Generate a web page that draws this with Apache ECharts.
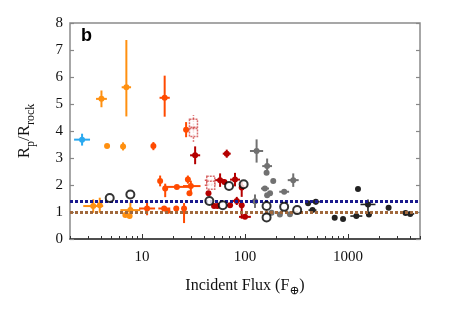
<!DOCTYPE html>
<html><head><meta charset="utf-8">
<script src="https://cdn.jsdelivr.net/npm/echarts@6/dist/echarts.min.js"></script>
<style>html,body{margin:0;padding:0;background:#fff}#c{width:455px;height:319px}</style>
</head><body><div id="c"></div>
<script>
// rows: [flux, radius, xLo, xHi, yLo, yHi] (null = no error bar)
const lightBlue = [[2.62, 3.68, 2.19, 3.13, 3.46, 3.90]];
const orange = [
  [4.04, 5.19, 3.58, 4.56, 4.88, 5.50],
  [7.05, 5.62, 6.35, 7.83, 4.54, 7.37],
  [4.58, 3.44, null, null, null, null],
  [6.55, 3.43, null, null, 3.28, 3.58],
  [3.36, 1.22, 2.69, 4.20, 0.97, 1.47],
  [3.89, 1.25, null, null, 0.97, 1.53],
  [6.89, 0.89, null, null, null, null],
  [7.71, 1.07, 6.17, 9.64, 0.79, 1.35],
  [7.58, 0.85, null, null, null, null]
];
const redOrange = [
  [16.6, 5.23, 14.8, 18.6, 4.53, 6.05],
  [12.9, 3.44, null, null, 3.29, 3.59],
  [26.8, 4.05, null, null, 3.77, 4.33],
  [11.2, 1.13, 9.37, 13.4, 0.88, 1.38],
  [15.0, 2.15, null, null, 1.95, 2.35],
  [16.8, 1.87, null, null, 1.55, 2.05],
  [21.8, 1.93, 16.2, 29.0, null, null],
  [27.9, 2.20, null, null, 2.05, 2.35],
  [29.8, 1.96, 25.0, 37.0, 1.76, 2.16],
  [28.9, 1.69, null, null, null, null],
  [16.4, 1.13, 14.4, 18.8, null, null],
  [17.7, 1.04, null, null, null, null],
  [21.5, 1.13, null, null, null, null],
  [25.6, 1.13, null, null, 0.59, 1.33]
];
const openSquares = [
  [31.6, 4.29, null, null, 4.00, 4.58],
  [31.6, 3.94, null, null, 3.60, 4.20],
  [46.5, 2.18, 40.7, 53.0, null, null],
  [46.5, 1.99, 40.7, 53.0, null, null]
];
const darkRed = [
  [32.8, 3.10, 29.3, 36.7, 2.77, 3.43],
  [66.5, 3.16, 60.8, 72.7, 3.01, 3.31],
  [57.3, 2.18, 51.3, 64.1, 1.93, 2.43],
  [63.1, 2.11, null, null, null, null],
  [80.0, 2.20, 71.6, 89.4, 1.95, 2.45],
  [92.9, 1.91, null, null, 1.56, 2.11],
  [44.2, 1.69, null, null, null, null],
  [50.1, 1.22, null, null, null, null],
  [54.0, 1.22, null, null, null, null],
  [71.6, 1.25, null, null, null, null],
  [83.2, 1.41, 74.4, 93.0, 1.26, 1.56],
  [92.9, 1.25, null, null, 0.75, 1.40],
  [100, 0.82, 87.5, 114, null, null]
];
const hollow = [
  [4.86, 1.52], [7.71, 1.65], [70.0, 1.96], [97.0, 2.03], [45.1, 1.41],
  [60.8, 1.25], [162, 1.22], [162, 0.80], [240, 1.19], [321, 1.07]
];
const gray = [
  [129.6, 3.26, 111.7, 150, 2.83, 3.69],
  [164, 2.70, 147, 183, 2.42, 2.98],
  [162, 2.45, null, null, null, null],
  [188, 2.15, null, null, null, null],
  [156, 1.87, 143, 171, null, null],
  [175, 1.69, null, null, null, null],
  [164, 1.62, null, null, null, null],
  [240, 1.75, 215, 268, null, null],
  [294, 2.18, 260, 332, 1.93, 2.43],
  [125, 1.40, null, null, 1.15, 1.65],
  [181, 0.97, null, null, null, null],
  [218, 0.91, null, null, null, null],
  [273, 0.92, null, null, null, null]
];
const black = [
  [410, 1.32, null, null, null, null],
  [487, 1.38, 446, 532, 1.28, 1.48],
  [452, 1.07, 413, 494, null, null],
  [743, 0.79, null, null, null, null],
  [895, 0.74, null, null, null, null],
  [1205, 0.85, 1054, 1377, null, null],
  [1250, 1.85, null, null, null, null],
  [1563, 1.28, 1322, 1848, 0.95, 1.46],
  [1597, 0.91, null, null, null, null],
  [2478, 1.16, null, null, null, null],
  [3622, 0.96, null, null, null, null],
  [4018, 0.93, 3676, 4392, null, null]
];
const refLines = [1.40, 1.00];
const xMajorTicks = [10, 100, 1000];
const xMinorTicks = [2,3,4,5,6,7,8,9,20,30,40,50,60,70,80,90,200,300,400,500,600,700,800,900,2000,3000,4000,5000];

const serif = '"Liberation Serif", "DejaVu Serif", serif';

function errSeries(arr, color, width, dashed) {
  return {
    type: 'custom', xAxisIndex: 0, yAxisIndex: 0, silent: true, z: 3,
    data: arr.map(r => [r[0], r[1]]),
    renderItem: function (params, api) {
      const r = arr[params.dataIndex];
      const ch = [];
      const st = {stroke: color, lineWidth: width, lineDash: dashed ? [1.5, 1.5] : null};
      if (r[2] != null) {
        const a = api.coord([r[2], r[1]]), b = api.coord([r[3], r[1]]);
        ch.push({type: 'line', shape: {x1: a[0], y1: a[1], x2: b[0], y2: b[1]}, style: st});
      }
      if (r[4] != null) {
        const a = api.coord([r[0], r[4]]), b = api.coord([r[0], r[5]]);
        ch.push({type: 'line', shape: {x1: a[0], y1: a[1], x2: b[0], y2: b[1]}, style: st});
      }
      return {type: 'group', children: ch};
    }
  };
}
function dotSeries(arr, color, size) {
  return {
    type: 'scatter', xAxisIndex: 0, yAxisIndex: 0, silent: true, z: 4,
    symbol: 'circle', symbolSize: size,
    itemStyle: {color: color, opacity: 1},
    data: arr.map(r => [r[0], r[1]])
  };
}

const chart = echarts.init(document.getElementById('c'), null, {renderer: 'canvas'});
chart.setOption({
  animation: false,
  backgroundColor: '#fff',
  grid: {left: 70, right: 35, top: 23, bottom: 80, show: true, borderColor: '#8a8a8a', borderWidth: 1.5, backgroundColor: 'transparent'},
  graphic: [{type: 'text', left: 81, top: 27, style: {text: 'b', font: 'bold 18px "Liberation Sans", Arial, sans-serif', fill: '#000'}}],
  xAxis: [
    {
      type: 'log', logBase: 10, min: 2, max: 5000, position: 'bottom',
      axisLine: {show: true, lineStyle: {color: '#333', width: 1.5}},
      axisTick: {show: true, inside: true, length: 5, customValues: xMajorTicks, lineStyle: {color: '#333', width: 1}},
      axisLabel: {customValues: xMajorTicks, formatter: v => String(Math.round(v)), color: '#111', fontFamily: serif, fontSize: 15, margin: 11},
      splitLine: {show: false}, minorTick: {show: false},
      name: '{a|Incident Flux (F}{s|⊕}{a|)}', nameLocation: 'middle', nameGap: 36,
      nameTextStyle: {rich: {
        a: {fontFamily: serif, fontSize: 16, color: '#111', lineHeight: 22, verticalAlign: 'middle'},
        s: {fontFamily: serif, fontSize: 12, color: '#111', lineHeight: 12, verticalAlign: 'bottom'}
      }}
    },
    {
      type: 'log', logBase: 10, min: 2, max: 5000, position: 'bottom',
      axisLine: {show: false},
      axisTick: {show: true, inside: true, length: 3, customValues: xMinorTicks, lineStyle: {color: '#333', width: 1}},
      axisLabel: {show: false}, splitLine: {show: false}
    }
  ],
  yAxis: [
    {
      type: 'value', min: 0, max: 8, interval: 1, position: 'left',
      axisLine: {show: false},
      axisTick: {show: true, inside: true, length: 4, lineStyle: {color: '#888', width: 1.2}},
      axisLabel: {color: '#111', fontFamily: serif, fontSize: 15, margin: 7},
      splitLine: {show: false},
      name: '{a|R}{s|p}{a|/R}{s|rock}', nameLocation: 'middle', nameGap: 33,
      nameTextStyle: {rich: {
        a: {fontFamily: serif, fontSize: 17, color: '#111', lineHeight: 24, verticalAlign: 'middle'},
        s: {fontFamily: serif, fontSize: 12, color: '#111', lineHeight: 13, verticalAlign: 'bottom'}
      }}
    },
    {
      type: 'value', min: 0, max: 8, interval: 1, position: 'right',
      axisLine: {show: false},
      axisTick: {show: true, inside: true, length: 4, lineStyle: {color: '#888', width: 1.2}},
      axisLabel: {show: false}, splitLine: {show: false}
    }
  ],
  series: [
    {
      type: 'line', xAxisIndex: 0, yAxisIndex: 0, data: [], silent: true, z: 2,
      markLine: {
        silent: true, symbol: 'none', label: {show: false}, animation: false,
        data: [
          {yAxis: refLines[0], lineStyle: {color: '#1a1a8e', width: 3, type: [3, 2]}},
          {yAxis: refLines[1], lineStyle: {color: '#a0683c', width: 3, type: [3, 2]}}
        ]
      }
    },
    errSeries(lightBlue, '#2aa9f0', 2, false), dotSeries(lightBlue, '#2aa9f0', 6),
    errSeries(orange, '#ff9010', 2, false), dotSeries(orange, '#ff9010', 6),
    errSeries(redOrange, '#ff4a00', 2, false), dotSeries(redOrange, '#ff4a00', 6),
    errSeries(openSquares, '#d85858', 1.5, true),
    {
      type: 'scatter', xAxisIndex: 0, yAxisIndex: 0, silent: true, z: 4,
      symbol: 'rect', symbolSize: 8,
      itemStyle: {color: '#fff', borderColor: '#d04848', borderWidth: 1.5, borderType: [2, 1]},
      data: openSquares.map(r => [r[0], r[1]])
    },
    errSeries(darkRed, '#b50000', 2, false), dotSeries(darkRed, '#b50000', 6),
    errSeries(gray, '#717171', 2, false), dotSeries(gray, '#717171', 6),
    errSeries(black, '#222', 1.6, false), dotSeries(black, '#222', 6),
    {
      type: 'scatter', xAxisIndex: 0, yAxisIndex: 0, silent: true, z: 5,
      symbol: 'circle', symbolSize: 8,
      itemStyle: {color: '#fff', borderColor: '#000', borderWidth: 2},
      data: hollow.map(r => [r[0], r[1]])
    }
  ]
});
</script></body></html>
